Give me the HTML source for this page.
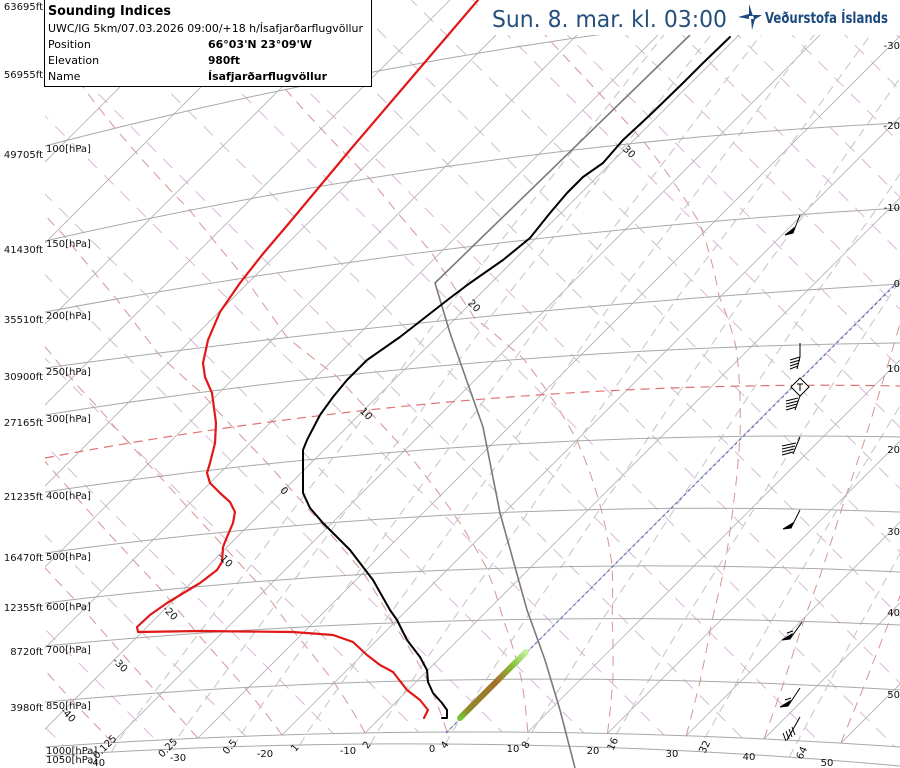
<!DOCTYPE html>
<html><head><meta charset="utf-8">
<style>
html,body{margin:0;padding:0;background:#fff;}
svg{display:block;}
text{font-family:"DejaVu Sans","Liberation Sans",sans-serif;}
</style></head>
<body>
<svg id="c" width="900" height="768" viewBox="0 0 900 768" xmlns="http://www.w3.org/2000/svg">
<defs>
<clipPath id="clipA"><path d="M45,-5 L905,-5 L905,747 L900,747 Q472.5,716.9 45,747 Z"/></clipPath>
<clipPath id="clipB"><path d="M45,-5 L905,-5 L905,766 L900,766 Q472.5,727.4 45,756 Z"/></clipPath>
<linearGradient id="gg" x1="460" y1="718" x2="526" y2="652" gradientUnits="userSpaceOnUse">
<stop offset="0" stop-color="#72c83a"/>
<stop offset="0.12" stop-color="#8f8a2c"/>
<stop offset="0.55" stop-color="#a3702c"/>
<stop offset="0.8" stop-color="#86c23a"/>
<stop offset="1" stop-color="#c4f0a0"/>
</linearGradient>
</defs>
<rect x="0" y="0" width="900" height="768" fill="#fff"/>
<g id="gridA" clip-path="url(#clipA)"></g>
<g id="gridB" clip-path="url(#clipB)"></g>

<!-- isobars -->
<g fill="none" stroke="#a8a8a8" stroke-width="1">
<path d="M45,146 Q472.5,34.3 900,2"/>
<path d="M45,241 Q472.5,143.7 900,123"/>
<path d="M45,312 Q472.5,232.4 900,208"/>
<path d="M45,368 Q472.5,309.5 900,284"/>
<path d="M45,415 Q472.5,347.1 900,343"/>
<path d="M45,492 Q472.5,428.5 900,437"/>
<path d="M45,553 Q472.5,495.2 900,512"/>
<path d="M45,603 Q472.5,550.8 900,572"/>
<path d="M45,646 Q472.5,605.3 900,625"/>
<path d="M45,702 Q472.5,663.3 900,690"/>
<path d="M45,747 Q472.5,716.9 900,747"/>
<path d="M45,756 Q472.5,727.4 900,766"/>
</g>

<!-- 0C isotherm -->
<line x1="446" y1="733" x2="896" y2="284" stroke="#4a4ac0" stroke-width="0.9" stroke-dasharray="3,3"/>
<!-- tropopause -->
<path d="M45,458 Q471.5,378 900,386" fill="none" stroke="#e07272" stroke-width="1.2" stroke-dasharray="9,6"/>

<!-- parcel gray -->
<polyline fill="none" stroke="#7a7a7a" stroke-width="1.6" stroke-linejoin="round" points="690,35 435,283 450,333 483,427 500,513 527,610 545,660 560,710 575,768"/>

<!-- dewpoint red -->
<polyline fill="none" stroke="#e01818" stroke-width="2.2" stroke-linejoin="round" stroke-linecap="round" points="478,0 420,68 350,150 290,222 262,255 240,283 220,312 208,340 203,363 205,377 212,393 216,423 215,443 210,463 207,473 210,483 220,493 230,502 235,512 233,523 227,537 223,547 222,562 217,570 200,583 167,603 150,615 137,627 138,632 200,631 293,632 333,635 353,642 367,655 380,665 393,672 407,690 420,700 428,710 424,718"/>

<!-- temperature black -->
<polyline fill="none" stroke="#000" stroke-width="2" stroke-linejoin="round" stroke-linecap="round" points="730,37 703,63 683,83 650,115 623,140 603,163 583,177 567,193 550,213 530,238 503,260 470,283 450,298 400,337 367,360 347,380 333,397 320,415 307,440 303,450 303,493 310,508 323,523 350,550 373,580 390,610 397,620 407,640 420,657 427,670 428,682 433,693 442,703 447,710 447,718 442,718"/>

<!-- green/brown line -->
<line x1="460" y1="718" x2="526" y2="652" stroke="url(#gg)" stroke-width="6" stroke-linecap="round"/>

<!-- wind barbs -->
<g stroke="#000" stroke-width="1" fill="#000">
<line x1="800" y1="215" x2="793" y2="233"/>
<polygon points="793,233 785,235 794,228"/>
<polyline fill="none" points="800,343 800,357 797,369"/>
<line x1="790" y1="360" x2="800" y2="357"/>
<line x1="790" y1="363" x2="800" y2="360"/>
<line x1="790" y1="366" x2="799" y2="363"/>
<line x1="790" y1="369" x2="798" y2="366"/>
<polygon points="800,378 809,387 800,396 791,387" fill="#fff"/>
<line x1="797" y1="384" x2="803" y2="384"/>
<line x1="800" y1="384" x2="800" y2="391"/>
<line x1="800" y1="396" x2="795" y2="410"/>
<line x1="786" y1="401" x2="798" y2="398"/>
<line x1="786" y1="404" x2="798" y2="401"/>
<line x1="786" y1="407" x2="797" y2="404"/>
<line x1="786" y1="410" x2="796" y2="407"/>
<line x1="800" y1="437" x2="793" y2="454"/>
<line x1="782" y1="446" x2="796" y2="443"/>
<line x1="782" y1="449" x2="795" y2="446"/>
<line x1="782" y1="452" x2="794" y2="449"/>
<line x1="782" y1="455" x2="793" y2="452"/>
<line x1="800" y1="510" x2="791" y2="528"/>
<polygon points="791,528 783,529 793,523"/>
<line x1="802" y1="622" x2="790" y2="639"/>
<polygon points="790,639 782,640 792,634"/>
<line x1="787" y1="633" x2="793" y2="631"/>
<line x1="800" y1="688" x2="788" y2="706"/>
<polygon points="788,706 780,707 790,701"/>
<line x1="785" y1="700" x2="791" y2="698"/>
<line x1="800" y1="717" x2="787" y2="740"/>
<line x1="783" y1="733" x2="786" y2="741"/>
<line x1="786" y1="731" x2="789" y2="739"/>
<line x1="789" y1="729" x2="792" y2="737"/>
<line x1="792" y1="727" x2="795" y2="735"/>
</g>

<!-- title box -->
<rect x="484" y="0" width="416" height="35" fill="#fff"/>
<text x="492" y="27" font-size="23" fill="#25507c" textLength="235" lengthAdjust="spacingAndGlyphs">Sun. 8. mar. kl. 03:00</text>
<g fill="#1c4a7e">
<polygon points="749,4 753,16 749,16"/>
<polygon points="738,17 749,14 749,19"/>
<polygon points="753,15 762,15 754,20"/>
<polygon points="751,19 755,19 752,30"/>
</g>
<text x="765" y="23" font-size="15" font-weight="bold" fill="#1c4a7e" font-family="Liberation Sans, sans-serif" textLength="123" lengthAdjust="spacingAndGlyphs">Veðurstofa Íslands</text>

<!-- legend box -->
<rect x="44.5" y="-1" width="327" height="87.5" fill="#fff" stroke="#000" stroke-width="1"/>
<text x="48" y="15" font-size="13" font-weight="bold" textLength="123" lengthAdjust="spacingAndGlyphs">Sounding Indices</text>
<text x="48" y="32" font-size="11" textLength="315" lengthAdjust="spacingAndGlyphs">UWC/IG 5km/07.03.2026 09:00/+18 h/Ísafjarðarflugvöllur</text>
<text x="48" y="48" font-size="11">Position</text>
<text x="48" y="64" font-size="11">Elevation</text>
<text x="48" y="80" font-size="11">Name</text>
<text x="208" y="48" font-size="11" font-weight="bold" textLength="104" lengthAdjust="spacingAndGlyphs">66°03'N 23°09'W</text>
<text x="208" y="64" font-size="11" font-weight="bold" textLength="32" lengthAdjust="spacingAndGlyphs">980ft</text>
<text x="208" y="80" font-size="11" font-weight="bold" textLength="119" lengthAdjust="spacingAndGlyphs">Ísafjarðarflugvöllur</text>

<!-- height labels -->
<g font-size="10" text-anchor="end" fill="#111">
<text x="43" y="10">63695ft</text>
<text x="43" y="78">56955ft</text>
<text x="43" y="158">49705ft</text>
<text x="43" y="253">41430ft</text>
<text x="43" y="323">35510ft</text>
<text x="43" y="380">30900ft</text>
<text x="43" y="426">27165ft</text>
<text x="43" y="500">21235ft</text>
<text x="43" y="561">16470ft</text>
<text x="43" y="611">12355ft</text>
<text x="43" y="655">8720ft</text>
<text x="43" y="711">3980ft</text>
</g>
<!-- isobar labels -->
<g font-size="10" fill="#111">
<text x="46" y="152">100[hPa]</text>
<text x="46" y="247">150[hPa]</text>
<text x="46" y="319">200[hPa]</text>
<text x="46" y="375">250[hPa]</text>
<text x="46" y="422">300[hPa]</text>
<text x="46" y="499">400[hPa]</text>
<text x="46" y="560">500[hPa]</text>
<text x="46" y="610">600[hPa]</text>
<text x="46" y="653">700[hPa]</text>
<text x="46" y="709">850[hPa]</text>
<text x="46" y="754">1000[hPa]</text>
<text x="46" y="763">1050[hPa]</text>
</g>
<!-- right isotherm labels -->
<g font-size="10" text-anchor="end" fill="#111">
<text x="900" y="49">-30</text>
<text x="900" y="129">-20</text>
<text x="900" y="211">-10</text>
<text x="900" y="287">0</text>
<text x="900" y="372">10</text>
<text x="900" y="453">20</text>
<text x="900" y="535">30</text>
<text x="900" y="616">40</text>
<text x="900" y="698">50</text>
</g>
<!-- bottom isotherm labels -->
<g font-size="10" text-anchor="middle" fill="#111">
<text x="97" y="766">-40</text>
<text x="178" y="761">-30</text>
<text x="265" y="757">-20</text>
<text x="348" y="754">-10</text>
<text x="432" y="752">0</text>
<text x="513" y="752">10</text>
<text x="593" y="754">20</text>
<text x="672" y="757">30</text>
<text x="749" y="760">40</text>
<text x="827" y="766">50</text>
</g>
<!-- mixing ratio labels -->
<g font-size="10" text-anchor="middle" fill="#111">
<text transform="translate(105,747) rotate(-45)" y="3">0.125</text>
<text transform="translate(168,748) rotate(-45)" y="3">0.25</text>
<text transform="translate(230,747) rotate(-50)" y="3">0.5</text>
<text transform="translate(295,748) rotate(-50)" y="3">1</text>
<text transform="translate(367,745) rotate(-55)" y="3">2</text>
<text transform="translate(445,745) rotate(-55)" y="3">4</text>
<text transform="translate(526,745) rotate(-60)" y="3">8</text>
<text transform="translate(613,744) rotate(-65)" y="3">16</text>
<text transform="translate(705,747) rotate(-65)" y="3">32</text>
<text transform="translate(802,753) rotate(-65)" y="3">64</text>
</g>
<!-- saturated adiabat labels -->
<g font-size="10" text-anchor="middle" fill="#111">
<text transform="translate(68,715) rotate(45)" y="3">-40</text>
<text transform="translate(120,665) rotate(45)" y="3">-30</text>
<text transform="translate(170,613) rotate(45)" y="3">-20</text>
<text transform="translate(225,560) rotate(45)" y="3">-10</text>
<text transform="translate(284,491) rotate(45)" y="3">0</text>
<text transform="translate(366,414) rotate(45)" y="3">10</text>
<text transform="translate(474,306) rotate(45)" y="3">20</text>
<text transform="translate(629,152) rotate(45)" y="3">30</text>
</g>
</svg>
<script>
(function(){
var NS="http://www.w3.org/2000/svg";
function el(parent,tag,attrs){var e=document.createElementNS(NS,tag);for(var k in attrs)e.setAttribute(k,attrs[k]);parent.appendChild(e);return e;}
var iso=[[100,146,58,2],[150,241,166,123],[200,312,249,208],[250,368,320,284],[300,415,365,343],[400,492,448,437],[500,553,515,512],[600,603,570,572],[700,646,621,625],[850,702,680,690],[1000,747,732,747],[1050,756,744,766]];
function quad(y0,y1,y2,x){var x0=45,x1=450,x2=900;
return y0*(x-x1)*(x-x2)/((x0-x1)*(x0-x2))+y1*(x-x0)*(x-x2)/((x1-x0)*(x1-x2))+y2*(x-x0)*(x-x1)/((x2-x0)*(x2-x1));}
function yp(p,x){var i;
if(p<=iso[0][0])i=0;else if(p>=iso[iso.length-1][0])i=iso.length-2;else{for(i=0;i<iso.length-1;i++){if(p>=iso[i][0]&&p<=iso[i+1][0])break;}}
var a=iso[i],b=iso[i+1];var f=(Math.log(p)-Math.log(a[0]))/(Math.log(b[0])-Math.log(a[0]));
var ya=quad(a[1],a[2],a[3],x),yb=quad(b[1],b[2],b[3],x);return ya+(yb-ya)*f;}
function xy(T,p){var u=8.1*T+1179;var lo=-700,hi=1700;
for(var k=0;k<45;k++){var m=(lo+hi)/2;if(m+yp(p,m)<u)lo=m;else hi=m;}
var x=(lo+hi)/2;return [x,yp(p,x)];}
function es(T){return 6.112*Math.exp(17.67*T/(T+243.5));}
function rs(T,p){var e=es(T);return 0.622*e/(p-e);}
function dTdp(T,p){var Tk=T+273.15,r=rs(T,p),L=2.501e6,Rd=287.04,cp=1005.7,eps=0.622;
return ((Rd*Tk+L*r)/p)/(cp+L*L*r*eps/(Rd*Tk*Tk));}
var gA=document.getElementById('gridA'),gB=document.getElementById('gridB');
var th,v,T,u,i;
// dry adiabats
for(th=220;th<=470;th+=10){v=2300*Math.log(th/283.15)-204;
el(gA,'line',{x1:v-20,y1:-20,x2:v+800,y2:800,stroke:'#d9b6d9','stroke-width':1,'stroke-dasharray':'13,10'});}
// saturated adiabats
for(var tw=-40;tw<=50;tw+=10){T=tw;var p=1000;var pts=[];var q=xy(T,p);pts.push(q[0].toFixed(1)+','+q[1].toFixed(1));
while(p>40){var dp=-5;var k1=dTdp(T,p);var k2=dTdp(T+k1*dp/2,p+dp/2);T+=k2*dp;p+=dp;q=xy(T,p);pts.push(q[0].toFixed(1)+','+q[1].toFixed(1));}
el(gA,'polyline',{points:pts.join(' '),fill:'none',stroke:'#d07878','stroke-width':1,'stroke-dasharray':'10,7','stroke-opacity':0.8});}
// mixing ratio lines
var ws=[0.125,0.25,0.5,1,2,4,8,16,32,64];
for(i=0;i<ws.length;i++){var w=ws[i]/1000;var pts2=[];
for(var pp=1050;pp>=100;pp-=10){var e=w*pp/(0.622+w);var le=Math.log(e/6.112);var Td=243.5*le/(17.67-le);var r=xy(Td,pp);pts2.push(r[0].toFixed(1)+','+r[1].toFixed(1));}
el(gB,'polyline',{points:pts2.join(' '),fill:'none',stroke:'#c8c8c8','stroke-width':1.1,'stroke-dasharray':'9,6'});}
// isotherms
for(T=-140;T<=60;T+=10){u=8.1*T+1179;
el(gA,'line',{x1:u+20,y1:-20,x2:u-800,y2:800,stroke:'#b2b2b2','stroke-width':0.8});}
})();
</script>
</body></html>
